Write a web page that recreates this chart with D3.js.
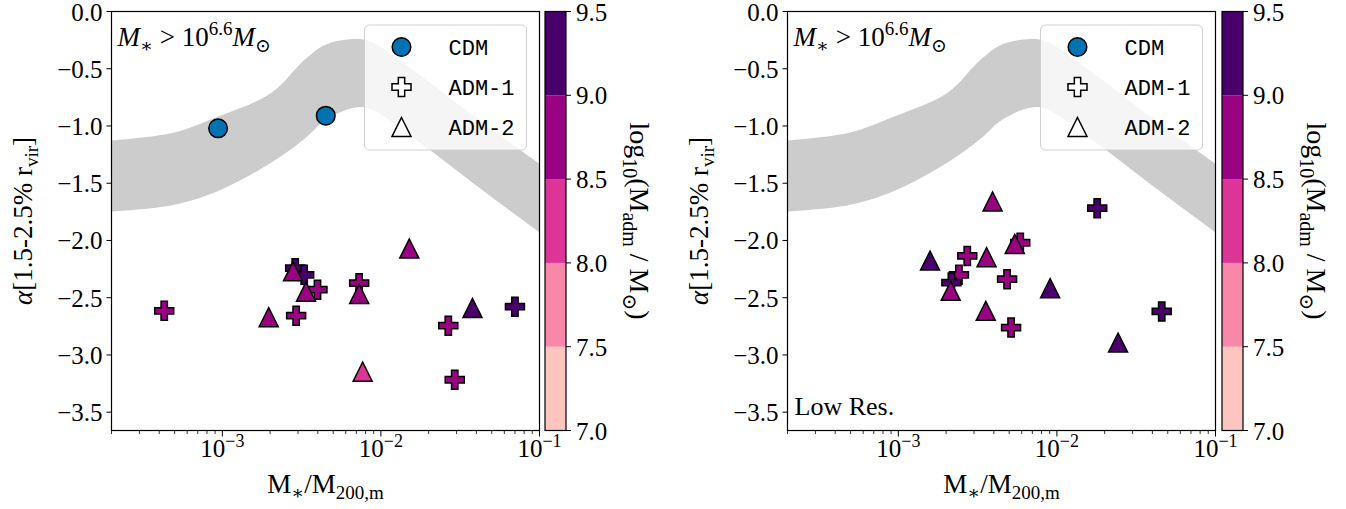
<!DOCTYPE html>
<html>
<head>
<meta charset="utf-8">
<script src="https://cdn.jsdelivr.net/npm/d3@7"></script>
<style>
body { margin: 0; background: #fff; }
svg text { font-family: "Liberation Serif", "DejaVu Serif", serif; fill: #000; }
</style>
</head>
<body>
<div id="chart"></div>
<script>
const width = 1346
const height = 509

// grey band (log10 x, alpha)
const bandLogX = [-3.72, -3.31, -3.03, -2.69, -2.48, -2.35, -2.17, -2.07, -1.76, -1.38, -0.98]
const bandUpper = [-1.13, -1.06, -0.92, -0.71, -0.42, -0.29, -0.24, -0.26, -0.55, -0.95, -1.35]
const bandLower = [-1.75, -1.69, -1.57, -1.32, -1.11, -0.95, -0.84, -0.85, -1.14, -1.54, -1.95]

// CDM (left panel only)
const cdmX = [9.4e-4, 4.49e-3]
const cdmY = [-1.02, -0.91]

// left panel
const leftAdm1X = [4.3e-4, 2.92e-3, 2.88e-3, 3.28e-3, 3.98e-3, 7.29e-3, 0.070, 0.0266, 0.0292]
const leftAdm1Y = [-2.615, -2.657, -2.242, -2.30, -2.43, -2.373, -2.578, -2.744, -3.217]
const leftAdm1M = [8.7, 8.7, 9.2, 9.2, 8.7, 8.7, 9.2, 8.7, 8.7]
const leftAdm2X = [1.96e-3, 2.79e-3, 3.37e-3, 7.29e-3, 0.0151, 7.67e-3, 0.0378]
const leftAdm2Y = [-2.67, -2.27, -2.447, -2.467, -2.07, -3.146, -2.59]
const leftAdm2M = [8.7, 8.7, 8.7, 8.7, 8.7, 8.3, 9.2]

// right panel (low res)
const rightAdm1X = [0.01795, 2.72e-3, 5.87e-3, 2.41e-3, 2.16e-3, 4.85e-3, 5.14e-3, 0.0458]
const rightAdm1Y = [-1.718, -2.135, -2.02, -2.30, -2.368, -2.338, -2.761, -2.62]
const rightAdm1M = [9.2, 8.7, 8.7, 8.7, 9.2, 8.7, 8.7, 9.2]
const rightAdm2X = [3.93e-3, 1.585e-3, 3.60e-3, 5.42e-3, 2.14e-3, 9.06e-3, 3.56e-3, 0.0243]
const rightAdm2Y = [-1.66, -2.176, -2.146, -2.03, -2.44, -2.417, -2.615, -2.892]
const rightAdm2M = [8.7, 9.2, 8.7, 8.7, 8.7, 9.2, 8.7, 9.2]

const yTicks = [0.0, -0.5, -1.0, -1.5, -2.0, -2.5, -3.0, -3.5]
const xTicks = [1e-3, 1e-2, 1e-1]
const xTickExp = ["\u22123", "\u22122", "\u22121"]
const cbBounds = [7.0, 7.5, 8.0, 8.5, 9.0, 9.5]
const cbColors = ["#fcc5c0", "#f887aa", "#dd3497", "#990281", "#4a006a"]
const cdmColor = "#0173b2"

const panels = [
    { left: 111.5, cbLeft: 545, adm1: [leftAdm1X, leftAdm1Y, leftAdm1M], adm2: [leftAdm2X, leftAdm2Y, leftAdm2M], cdm: true, note: null },
    { left: 787.5, cbLeft: 1222, adm1: [rightAdm1X, rightAdm1Y, rightAdm1M], adm2: [rightAdm2X, rightAdm2Y, rightAdm2M], cdm: false, note: "Low Res." }
]
const plotW = 428
const plotTop = 11.5
const plotBottom = 430.5
const cbW = 21
const serif = "'Liberation Serif', 'DejaVu Serif', serif"

const svg = d3.select("#chart").append("svg")
    .attr("width", width)
    .attr("height", height)
    .attr("font-family", serif)

const color = d3.scaleThreshold().domain(cbBounds.slice(1, -1)).range(cbColors)

// marker paths
const plusPath = s => {
    const a = s / 2, b = s / 6
    return `M${-b},${-a}H${b}V${-b}H${a}V${b}H${b}V${a}H${-b}V${b}H${-a}V${-b}H${-b}Z`
}
const triPath = s => `M0,${-s / 2}L${s / 2},${s / 2}L${-s / 2},${s / 2}Z`

const band = d3.range(bandLogX.length).map(i => ({ x: Math.pow(10, bandLogX[i]), u: bandUpper[i], l: bandLower[i] }))

panels.forEach((p, pi) => {
    const x = d3.scaleLog().domain([2e-4, 0.1]).range([p.left, p.left + plotW])
    const y = d3.scaleLinear().domain([-3.66, 0.0]).range([plotBottom, plotTop])
    const g = svg.append("g")

    const clipId = "clip" + pi
    g.append("clipPath").attr("id", clipId).append("rect")
        .attr("x", p.left).attr("y", plotTop).attr("width", plotW).attr("height", plotBottom - plotTop)

    const area = d3.area()
        .x(d => x(d.x)).y0(d => y(d.l)).y1(d => y(d.u))
        .curve(d3.curveCatmullRom)
    g.append("path").datum(band)
        .attr("clip-path", `url(#${clipId})`)
        .attr("d", area)
        .attr("fill", "#cccccc")

    const pts = g.append("g").attr("clip-path", `url(#${clipId})`)

    if (p.cdm) {
        pts.selectAll(".cdm").data(cdmX).enter().append("circle")
            .attr("cx", d => x(d)).attr("cy", (d, i) => y(cdmY[i]))
            .attr("r", 9.3)
            .attr("fill", cdmColor).attr("stroke", "#000").attr("stroke-width", 1.5)
    }
    const [ax, ay, am] = p.adm1
    pts.selectAll(".adm1").data(ax).enter().append("path")
        .attr("transform", (d, i) => `translate(${x(d)},${y(ay[i])})`)
        .attr("d", plusPath(19))
        .attr("fill", (d, i) => color(am[i]))
        .attr("stroke", "#000").attr("stroke-width", 1.5).attr("stroke-linejoin", "miter")
    const [tx, ty, tm] = p.adm2
    pts.selectAll(".adm2").data(tx).enter().append("path")
        .attr("transform", (d, i) => `translate(${x(d)},${y(ty[i])})`)
        .attr("d", triPath(19))
        .attr("fill", (d, i) => color(tm[i]))
        .attr("stroke", "#000").attr("stroke-width", 1.5).attr("stroke-linejoin", "miter")

    // frame
    g.append("rect")
        .attr("x", p.left).attr("y", plotTop).attr("width", plotW).attr("height", plotBottom - plotTop)
        .attr("fill", "none").attr("stroke", "#000").attr("stroke-width", 1.2)

    // y axis
    yTicks.forEach(v => {
        g.append("line").attr("x1", p.left).attr("x2", p.left - 5)
            .attr("y1", y(v)).attr("y2", y(v)).attr("stroke", "#000").attr("stroke-width", 1)
        g.append("text").attr("x", p.left - 9).attr("y", y(v)).attr("dy", "0.36em")
            .attr("text-anchor", "end").style("font-size", "25px")
            .text(v === 0 ? "0.0" : "\u2212" + Math.abs(v).toFixed(1))
    })

    // x axis, major and minor ticks
    const minor = []
    for (let e = -4; e <= -2; e++) for (let k = 2; k <= 9; k++) {
        const v = k * Math.pow(10, e)
        if (v >= 2e-4 && v <= 0.1) minor.push(v)
    }
    minor.forEach(v => {
        g.append("line").attr("x1", x(v)).attr("x2", x(v))
            .attr("y1", plotBottom).attr("y2", plotBottom + 3.5).attr("stroke", "#000").attr("stroke-width", 0.8)
    })
    xTicks.forEach((v, i) => {
        g.append("line").attr("x1", x(v)).attr("x2", x(v))
            .attr("y1", plotBottom).attr("y2", plotBottom + 6).attr("stroke", "#000").attr("stroke-width", 1)
        const t = g.append("text").attr("x", x(v)).attr("y", 457)
            .attr("text-anchor", "middle").style("font-size", "25px")
        t.append("tspan").text("10")
        t.append("tspan").attr("dy", -10).style("font-size", "18px").text(xTickExp[i])
    })

    // axis labels
    const xl = g.append("text").attr("x", p.left + plotW / 2).attr("y", 493)
        .attr("text-anchor", "middle").style("font-size", "27px")
    xl.append("tspan").text("M")
    xl.append("tspan").attr("dy", 6).style("font-size", "19px").text("\u2217")
    xl.append("tspan").attr("dy", -6).text("/M")
    xl.append("tspan").attr("dy", 6).style("font-size", "19px").text("200,m")

    const yl = g.append("text")
        .attr("transform", `translate(${p.left - 80},${(plotTop + plotBottom) / 2}) rotate(-90)`)
        .attr("text-anchor", "middle").style("font-size", "27px")
    yl.append("tspan").style("font-style", "italic").text("\u03b1")
    yl.append("tspan").text("[1.5-2.5% r")
    yl.append("tspan").attr("dy", 6).style("font-size", "19px").text("vir")
    yl.append("tspan").attr("dy", -6).text("]")

    // mass-cut note
    const nt = g.append("text").attr("x", p.left + 6).attr("y", 46).style("font-size", "27px")
    nt.append("tspan").style("font-style", "italic").text("M")
    nt.append("tspan").attr("dy", 6).style("font-size", "19px").text("\u2217")
    nt.append("tspan").attr("dy", -6).text(" > 10")
    nt.append("tspan").attr("dy", -11).style("font-size", "19px").text("6.6")
    nt.append("tspan").attr("dy", 11).style("font-style", "italic").text("M")
    nt.append("tspan").attr("dy", 6).style("font-size", "19px").text("\u2299")

    if (p.note) {
        g.append("text").attr("x", p.left + 7).attr("y", 415).style("font-size", "26px").text(p.note)
    }

    // legend
    const lgRight = p.left + plotW - 13
    const lg = g.append("g")
    lg.append("rect").attr("x", lgRight - 162).attr("y", 25).attr("width", 162).attr("height", 125)
        .attr("rx", 5).attr("fill", "#fff").attr("fill-opacity", 0.8)
        .attr("stroke", "#d0d0d0").attr("stroke-width", 1)
    const mx = lgRight - 125
    const rows = [47, 87, 127]
    lg.append("circle").attr("cx", mx).attr("cy", rows[0]).attr("r", 9.3)
        .attr("fill", cdmColor).attr("stroke", "#000").attr("stroke-width", 1.5)
    lg.append("path").attr("transform", `translate(${mx},${rows[1]})`).attr("d", plusPath(19))
        .attr("fill", "#fff").attr("stroke", "#000").attr("stroke-width", 1.5)
    lg.append("path").attr("transform", `translate(${mx},${rows[2]})`).attr("d", triPath(19))
        .attr("fill", "#fff").attr("stroke", "#000").attr("stroke-width", 1.5)
    ;["CDM", "ADM-1", "ADM-2"].forEach((s, i) => {
        lg.append("text").attr("x", lgRight - 78).attr("y", rows[i]).attr("dy", "0.35em")
            .style("font-family", "'Liberation Mono', 'DejaVu Sans Mono', monospace").style("font-size", "22px").text(s)
    })

    // colorbar
    const cy = d3.scaleLinear().domain([7.0, 9.5]).range([plotBottom, plotTop])
    const cb = g.append("g")
    cbColors.forEach((c, i) => {
        cb.append("rect").attr("x", p.cbLeft).attr("y", cy(cbBounds[i + 1]))
            .attr("width", cbW).attr("height", cy(cbBounds[i]) - cy(cbBounds[i + 1]))
            .attr("fill", c)
    })
    cb.append("rect").attr("x", p.cbLeft).attr("y", plotTop).attr("width", cbW).attr("height", plotBottom - plotTop)
        .attr("fill", "none").attr("stroke", "#000").attr("stroke-width", 1.2)
    cbBounds.forEach(v => {
        cb.append("line").attr("x1", p.cbLeft + cbW).attr("x2", p.cbLeft + cbW + 5)
            .attr("y1", cy(v)).attr("y2", cy(v)).attr("stroke", "#000")
        cb.append("text").attr("x", p.cbLeft + cbW + 10).attr("y", cy(v)).attr("dy", "0.36em")
            .style("font-size", "25px").text(v.toFixed(1))
    })
    const cl = cb.append("text")
        .attr("transform", `translate(${p.cbLeft + 85},${(plotTop + plotBottom) / 2}) rotate(90)`)
        .attr("text-anchor", "middle").style("font-size", "28px")
    cl.append("tspan").text("log")
    cl.append("tspan").attr("dy", 7).style("font-size", "20px").text("10")
    cl.append("tspan").attr("dy", -7).text("(M")
    cl.append("tspan").attr("dy", 7).style("font-size", "20px").text("adm")
    cl.append("tspan").attr("dy", -7).text(" / M")
    cl.append("tspan").attr("dy", 7).style("font-size", "20px").text("\u2299")
    cl.append("tspan").attr("dy", -7).text(")")
})
</script>
</body>
</html>
